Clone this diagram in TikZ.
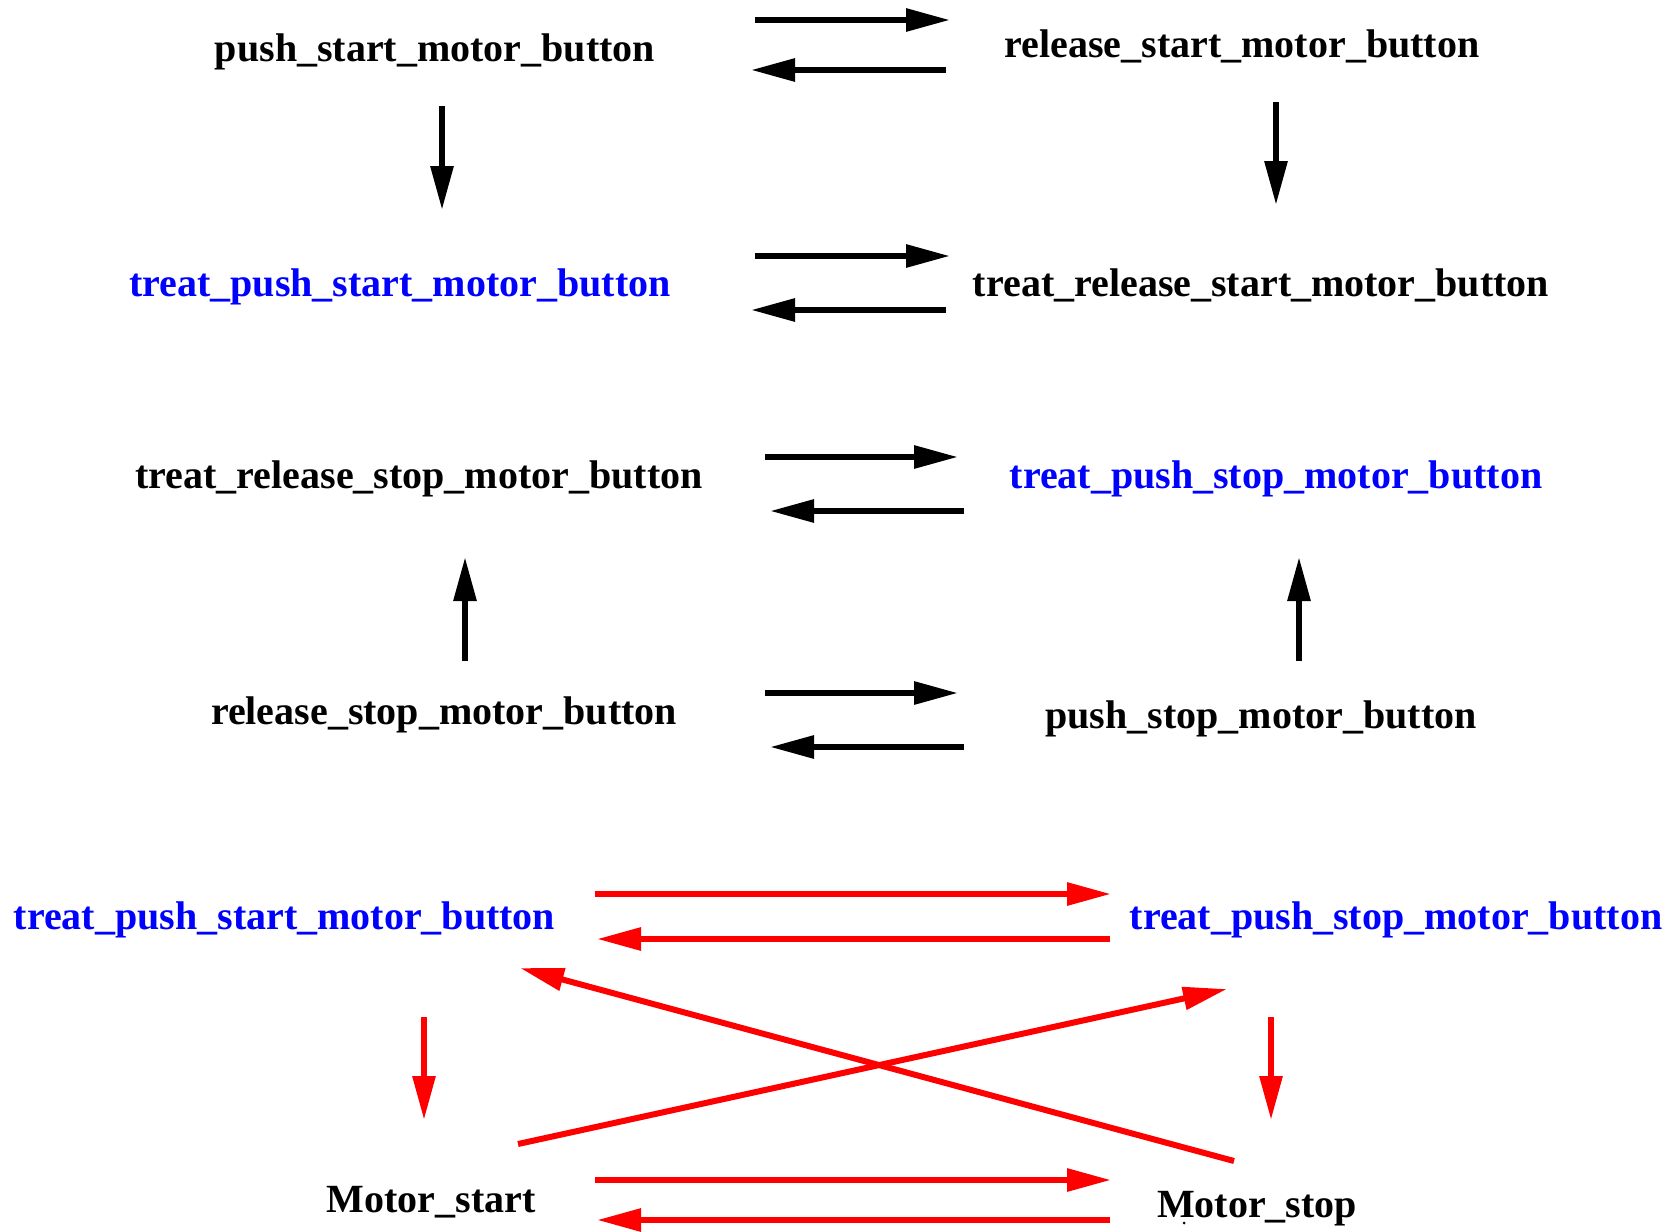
\documentclass[tikz,border=0pt]{standalone}
\usepackage{fontspec}
\setmainfont{Liberation Serif}
\usetikzlibrary{arrows.meta}
\definecolor{pblue}{RGB}{0,0,255}
\definecolor{pred}{RGB}{255,0,0}
\tikzset{
  lab/.style={inner sep=0pt, anchor=base, font=\fontsize{40}{48}\selectfont\bfseries},
  bluelab/.style={lab, text=pblue},
  arr/.style={line width=6pt, -{Triangle[length=44pt,width=22pt]}},
  rarr/.style={arr, pred},
}
\begin{document}
\begin{tikzpicture}[x=1pt,y=-1pt]
\useasboundingbox (0,0) rectangle (1677,1231);
% labels
\node[lab] (psmb) at (435,61) {push\_start\_motor\_button};
\node[lab] (rsmb) at (1242,57) {release\_start\_motor\_button};
\node[bluelab] (tpsmb) at (400,296) {treat\_push\_start\_motor\_button};
\node[lab] (trsmb) at (1261,296) {treat\_release\_start\_motor\_button};
\node[lab] (trstmb) at (419,488) {treat\_release\_stop\_motor\_button};
\node[bluelab] (tpstmb) at (1276,488) {treat\_push\_stop\_motor\_button};
\node[lab] (rstmb) at (444,724) {release\_stop\_motor\_button};
\node[lab] (pstmb) at (1261,728) {push\_stop\_motor\_button};
\node[bluelab] (tpsmbB) at (284.5,929) {treat\_push\_start\_motor\_button};
\node[bluelab] (tpstmbB) at (1396,929) {treat\_push\_stop\_motor\_button};
\node[lab] (mstart) at (431,1212) {Motor\_start};
\node[lab] (mstop) at (1257,1217) {Motor\_stop};
\node[circle, fill=black, inner sep=0pt, minimum size=3pt] (mdot) at (1184,1223) {};
% coordinates
\coordinate (a1s) at (755,20);  \coordinate (a1e) at (950,20);
\coordinate (a2s) at (946,70);  \coordinate (a2e) at (751,70);
\coordinate (a3s) at (755,256); \coordinate (a3e) at (950,256);
\coordinate (a4s) at (946,310); \coordinate (a4e) at (751,310);
\coordinate (a5s) at (765,457); \coordinate (a5e) at (958,457);
\coordinate (a6s) at (964,511); \coordinate (a6e) at (770,511);
\coordinate (a7s) at (765,693); \coordinate (a7e) at (958,693);
\coordinate (a8s) at (964,747); \coordinate (a8e) at (770,747);
\coordinate (v1s) at (442,106); \coordinate (v1e) at (442,210);
\coordinate (v2s) at (1276,102);\coordinate (v2e) at (1276,205);
\coordinate (v3s) at (465,661); \coordinate (v3e) at (465,557);
\coordinate (v4s) at (1299,661);\coordinate (v4e) at (1299,557);
\coordinate (r1s) at (595,894); \coordinate (r1e) at (1111,894);
\coordinate (r2s) at (1110,939);\coordinate (r2e) at (597,939);
\coordinate (r3s) at (595,1180);\coordinate (r3e) at (1111,1180);
\coordinate (r4s) at (1110,1220);\coordinate (r4e) at (597,1220);
\coordinate (rv1s) at (424,1017);\coordinate (rv1e) at (424,1120);
\coordinate (rv2s) at (1271,1017);\coordinate (rv2e) at (1271,1120);
\coordinate (d1s) at (518,1144); \coordinate (d1e) at (1227,989);
\coordinate (d2s) at (1234,1161);\coordinate (d2e) at (520,968);
% black arrows
\draw[arr] (a1s) -- (a1e);
\draw[arr] (a2s) -- (a2e);
\draw[arr] (a3s) -- (a3e);
\draw[arr] (a4s) -- (a4e);
\draw[arr] (a5s) -- (a5e);
\draw[arr] (a6s) -- (a6e);
\draw[arr] (a7s) -- (a7e);
\draw[arr] (a8s) -- (a8e);
\draw[arr] (v1s) -- (v1e);
\draw[arr] (v2s) -- (v2e);
\draw[arr] (v3s) -- (v3e);
\draw[arr] (v4s) -- (v4e);
% red arrows
\draw[rarr] (r1s) -- (r1e);
\draw[rarr] (r2s) -- (r2e);
\draw[rarr] (r3s) -- (r3e);
\draw[rarr] (r4s) -- (r4e);
\draw[rarr] (rv1s) -- (rv1e);
\draw[rarr] (rv2s) -- (rv2e);
\draw[rarr] (d1s) -- (d1e);
\draw[rarr] (d2s) -- (d2e);
\end{tikzpicture}
\end{document}
